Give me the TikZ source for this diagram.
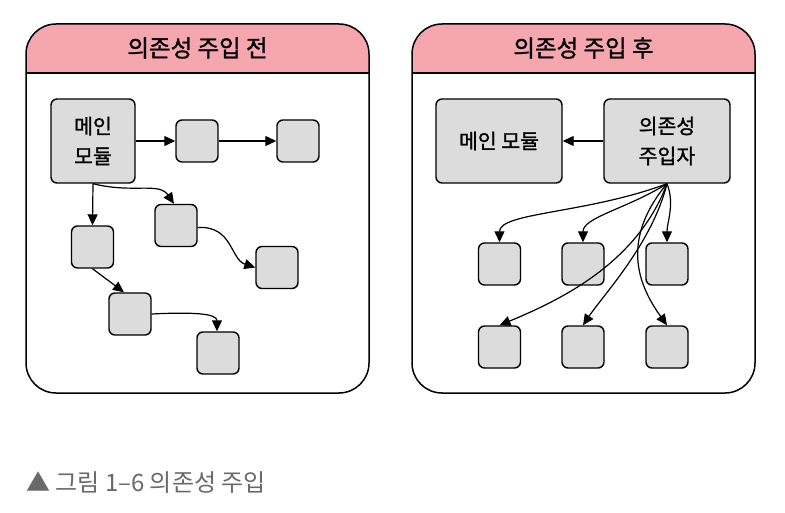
\documentclass[tikz,border=0pt]{standalone}
\usepackage{fontspec}
\setmainfont{Noto Sans CJK KR}
\newfontfamily\hfont[FakeBold=1.2]{Noto Sans CJK KR}
\usetikzlibrary{arrows.meta}
\definecolor{hdrpink}{RGB}{245,166,174}
\definecolor{boxgray}{RGB}{220,220,220}
\definecolor{capgray}{RGB}{105,105,105}
\tikzset{
  panel/.style={draw=black, line width=1.5pt},
  sbox/.style={draw=black, fill=boxgray, rounded corners=6pt, line width=1.4pt, minimum width=42pt, minimum height=42pt, inner sep=0pt},
  bigbox/.style={draw=black, fill=boxgray, rounded corners=6pt, line width=1.4pt, minimum height=84pt, inner sep=0pt, align=center, font=\hfont\fontsize{20.5}{30}\selectfont},
  title/.style={font=\hfont\fontsize{23.5}{26}\selectfont},
  arr/.style={line width=1.2pt, -{Triangle[length=11pt,width=10pt]}},
}
\begin{document}
\begin{tikzpicture}[x=1pt,y=-1pt]
\path[use as bounding box] (0,0) rectangle (785,513);
% panels
\begin{scope}
\clip (0,0) rectangle (785,73);
\fill[hdrpink, rounded corners=30pt] (26,24) rectangle (369,393);
\fill[hdrpink, rounded corners=30pt] (412,24) rectangle (755,393);
\end{scope}
\draw[panel, rounded corners=30pt] (26,24) rectangle (369,393);
\draw[panel] (26,73) -- (369,73);
\draw[panel, rounded corners=30pt] (412,24) rectangle (755,393);
\draw[panel] (412,73) -- (755,73);
\node[title] (tl) at (197.5,48) {의존성 주입 전};
\node[title] (tr) at (583.5,48) {의존성 주입 후};
% left nodes
\node[bigbox, minimum width=84pt] (lmain) at (93,141) {메인\\모듈};
\node[sbox] (la) at (197,141) {};
\node[sbox] (lb) at (298,141) {};
\node[sbox] (lc) at (92.5,247) {};
\node[sbox] (ld) at (176,225.5) {};
\node[sbox] (le) at (277,267.5) {};
\node[sbox] (lf) at (130,314) {};
\node[sbox] (lg) at (218,353) {};
\draw[arr] (lmain.east) -- (la.west);
\draw[arr] (la.east) -- (lb.west);
\draw[arr] (lmain.south) -- (lc.north);
\draw[arr] (lmain.south) .. controls +(40,10) and +(-15,-22) .. ([xshift=-2pt]ld.north);
\draw[arr] ([yshift=-2pt]ld.east) .. controls +(35,-2) and +(-25,-8) .. (le.west);
\draw[arr] (lc.south) -- ([xshift=-6pt]lf.north);
\draw[arr] (lf.east) .. controls +(40,-2) and +(0,-18) .. ([xshift=-1pt]lg.north);
% right nodes
\node[bigbox, minimum width=126pt] (rmain) at (499,141) {메인 모듈};
\node[bigbox, minimum width=126pt] (rinj) at (667,141) {의존성\\주입자};
\node[sbox] (r1a) at (499.5,264) {};
\node[sbox] (r1b) at (583,264) {};
\node[sbox] (r1c) at (667,264) {};
\node[sbox] (r2a) at (499.5,347) {};
\node[sbox] (r2b) at (583,347) {};
\node[sbox] (r2c) at (667,347) {};
\coordinate (S) at (rinj.south);
\draw[arr] (rinj.west) -- (rmain.east);
\draw[arr] (S) .. controls +(-80,30) and +(0,-30) .. (r1a.north);
\draw[arr] (S) .. controls +(-40,25) and +(0,-25) .. (r1b.north);
\draw[arr] (S) .. controls +(8,20) and +(0,-20) .. (r1c.north);
\draw[arr] (S) .. controls +(-30,80) and +(60,-25) .. (r2a.north);
\draw[arr] (S) .. controls +(-15,60) and +(20,-30) .. (r2b.north);
\draw[arr] (S) .. controls +(-50,60) and +(-25,-35) .. (r2c.north);
% caption
\node[anchor=west, text=capgray, font=\fontsize{24}{28}\selectfont, inner sep=0pt] (cap) at (26,483) {▲ 그림 1–6 의존성 주입};
\end{tikzpicture}
\end{document}
